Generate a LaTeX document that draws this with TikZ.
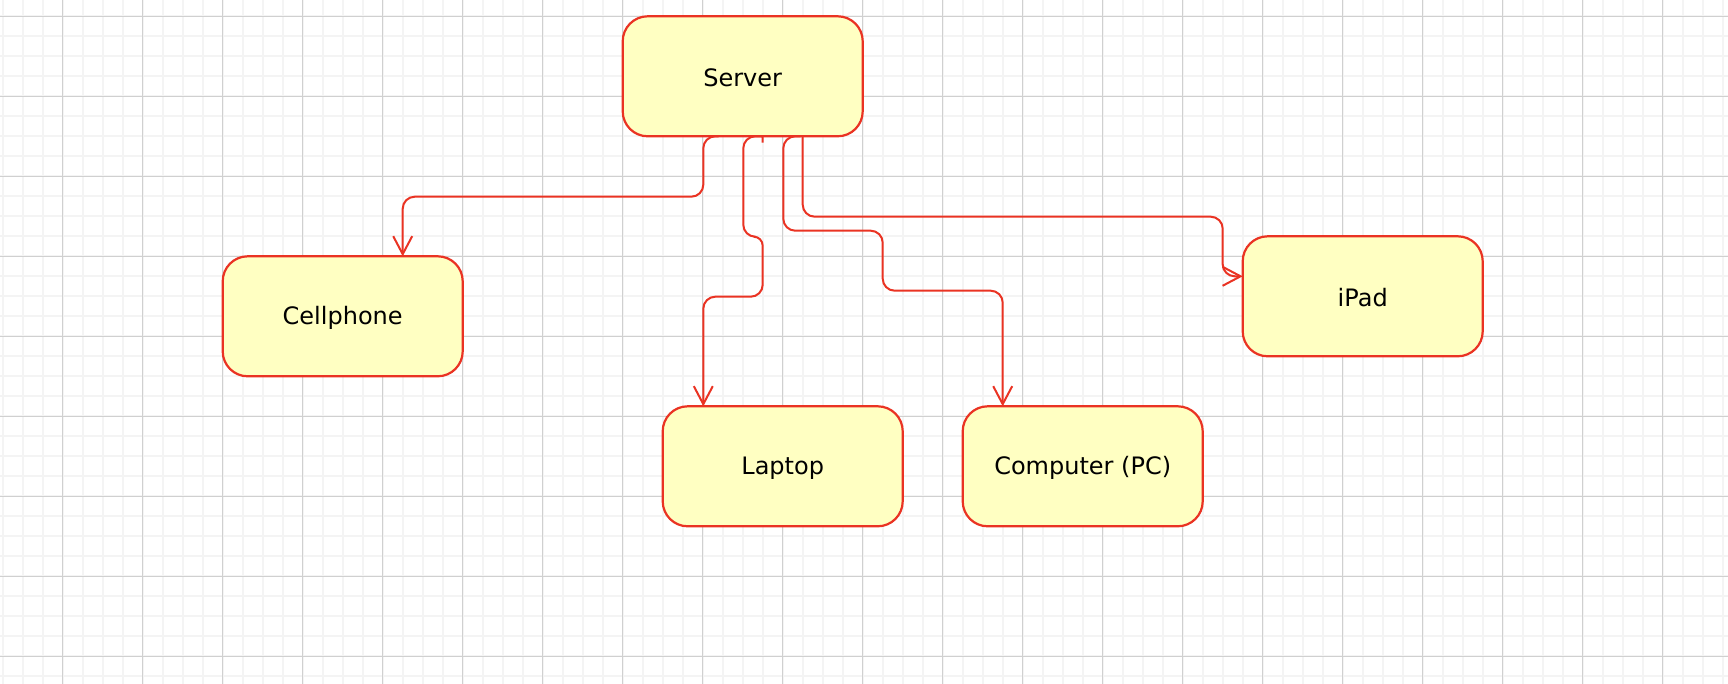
\documentclass[tikz,border=0pt]{standalone}
\usepackage{fontspec}
\setmainfont{DejaVu Sans}
\usetikzlibrary{arrows.meta,calc}
\definecolor{stroke}{RGB}{234,51,35}
\definecolor{boxfill}{RGB}{255,255,194}
\definecolor{minorgrid}{RGB}{244,244,244}
\definecolor{majorgrid}{RGB}{208,208,208}
\tikzset{
  statebox/.style={draw=stroke, fill=boxfill, line width=2.2pt, rounded corners=25pt,
    minimum width=240pt, minimum height=120pt, outer sep=0pt, inner sep=0pt,
    font=\fontsize{24pt}{28pt}\selectfont, text=black},
  boxlabel/.style={font=\fontsize{24pt}{28pt}\selectfont, text=black, inner sep=0pt},
  edge/.style={draw=stroke, line width=2pt, rounded corners=12pt,
    -{Straight Barb[length=18pt,width=19pt]}},
}
\begin{document}
\begin{tikzpicture}[x=1pt,y=-1pt]
\useasboundingbox (0,0) rectangle (1728,684);
\fill[white] (0,0) rectangle (1728,684);
\begin{scope}
\clip (0,0) rectangle (1728,684);
\foreach \i in {0,...,86} {
  \draw[minorgrid, line width=1.7pt] ({2.7+20*\i},0) -- ({2.7+20*\i},684);
}
\foreach \i in {0,...,35} {
  \draw[minorgrid, line width=1.7pt] (0,{-3.7+20*\i}) -- (1728,{-3.7+20*\i});
}
\foreach \i in {0,...,21} {
  \draw[majorgrid, line width=1pt] ({62.7+80*\i},0) -- ({62.7+80*\i},684);
}
\foreach \i in {0,...,8} {
  \draw[majorgrid, line width=1pt] (0,{16.3+80*\i}) -- (1728,{16.3+80*\i});
}
\end{scope}

\node[statebox] (server) at (742.7,76.3) {};
\node[statebox] (cell) at (342.7,316.3) {};
\node[statebox] (laptop) at (782.7,466.3) {};
\node[statebox] (comp) at (1082.7,466.3) {};
\node[statebox] (ipad) at (1362.7,296.3) {};
\node[boxlabel] (serverlbl) at ($(server.center)+(0,1.5)$) {Server};
\node[boxlabel] (celllbl) at ($(cell.center)+(0,1.5)$) {Cellphone};
\node[boxlabel] (laptoplbl) at ($(laptop.center)+(0,1.5)$) {Laptop};
\node[boxlabel] (complbl) at ($(comp.center)+(0,1.5)$) {Computer (PC)};
\node[boxlabel] (ipadlbl) at ($(ipad.center)+(0,1.5)$) {iPad};

% Server -> Cellphone
\draw[edge] ($(server.south)+(-24,0)$) -- (703.3,136.3) -- (703.3,196.7)
  -- (402.7,196.7) -- ($(cell.north)+(60,0)$);
% Server -> Laptop
\draw[edge] ($(server.south)+(20,6.4)$) [sharp corners] -- ($(server.south)+(20,0)$)
  [rounded corners=12pt] -- (743.3,136.3) -- (743.3,236.7) [rounded corners=9pt] -- (762.7,236.7)
  [rounded corners=12pt] -- (762.7,296.7) -- (703.3,296.7) -- ($(laptop.north)+(-79.4,0)$);
% Server -> Computer
\draw[edge] ($(server.south)+(58,0)$) -- (783.3,136.3) -- (783.3,230.7)
  -- (882.7,230.7) -- (882.7,290.7) -- (1002.7,290.7) -- ($(comp.north)+(-80,0)$);
% Server -> iPad
\draw[edge] ($(server.south)+(60,0)$) -- (802.7,216.7) -- (1222.7,216.7)
  -- (1222.7,276.3) -- ($(ipad.west)+(0,-20)$);
\end{tikzpicture}
\end{document}
